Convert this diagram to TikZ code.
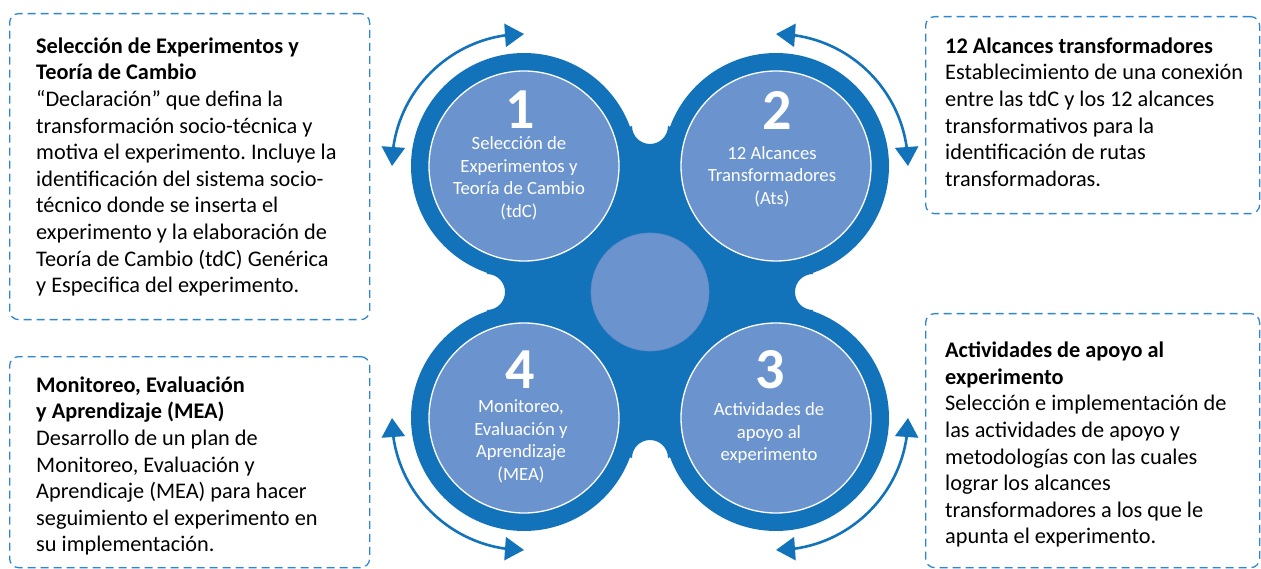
\documentclass[tikz,border=0pt]{standalone}
\usepackage{fontspec}
\setmainfont{Carlito}
\frenchspacing
\usetikzlibrary{arrows.meta,bending}
\definecolor{blobblue}{RGB}{18,115,187}
\definecolor{innerblue}{RGB}{107,147,205}
\definecolor{centerline}{RGB}{96,136,196}
\definecolor{dashblue}{RGB}{46,134,210}
\tikzset{
  outerring/.style={circle, fill=blobblue, minimum size=226pt, inner sep=0pt},
  innerdisc/.style={circle, fill=innerblue, draw=white, line width=1.3pt, minimum size=190pt, inner sep=0pt},
  centerdisc/.style={circle, fill=innerblue, draw=centerline, line width=0.6pt, minimum size=118pt, inner sep=0pt},
  bignum/.style={anchor=base, text=white, inner sep=0pt, font=\fontsize{58}{58}\selectfont\bfseries},
  circtext/.style={anchor=base, text=white, inner sep=0pt},
  infobox/.style={draw=dashblue, line width=1.3pt, dash pattern=on 8pt off 5pt, rounded corners=9pt, anchor=north west, inner sep=0pt},
  infotext/.style={anchor=base west, inner sep=0pt, text=black},
  cyclearrow/.style={draw=blobblue, line width=2.6pt, arrows={Triangle[length=19pt,width=23pt,flex]-Triangle[length=19pt,width=23pt,flex]}}
}
\newcommand{\circlines}[1]{\begin{minipage}[t]{190pt}\centering\fontsize{18.7}{22.5}\selectfont #1\end{minipage}}
\newcommand{\boxlines}[1]{\begin{minipage}[t]{330pt}\raggedright\fontsize{22.3}{26.6}\selectfont #1\end{minipage}}
\begin{document}
\begin{tikzpicture}[x=1pt,y=-1pt]
\useasboundingbox (0,0) rectangle (1261,569);
% outer dark circles
\node[outerring] (o1) at (524,166) {};
\node[outerring] (o2) at (776,166) {};
\node[outerring] (o3) at (776,418) {};
\node[outerring] (o4) at (524,418) {};
% connecting blob with four notches
\fill[blobblue] (632,126) arc[start angle=180,end angle=0,radius=18] -- (o2.center)
  -- (813,274) arc[start angle=-90,end angle=-270,radius=18] -- (o3.center)
  -- (668,458) arc[start angle=0,end angle=-180,radius=18] -- (o4.center)
  -- (487,310) arc[start angle=90,end angle=-90,radius=18] -- (o1.center) -- cycle;
% inner discs
\node[innerdisc] (n1) at (524,166) {};
\node[innerdisc] (n2) at (776,166) {};
\node[innerdisc] (n3) at (776,418) {};
\node[innerdisc] (n4) at (524,418) {};
\node[centerdisc] (nc) at (650,292) {};
% numbers
\node[bignum] (d1) at (520,128.3) {1};
\node[bignum] (d2) at (777,129.5) {2};
\node[bignum] (d3) at (770,388.3) {3};
\node[bignum] (d4) at (520,388.3) {4};
% circle texts
\node[circtext] (c1) at (519,149.8) {\circlines{Selección de\\Experimentos y\\Teoría de Cambio\\(tdC)}};
\node[circtext] (c2) at (772,159.3) {\circlines{12 Alcances\\Transformadores\\(Ats)}};
\node[circtext] (c3) at (769,415.7) {\circlines{Actividades de\\apoyo al\\experimento}};
\node[circtext] (c4) at (521,412.7) {\circlines{Monitoreo,\\Evaluación y\\Aprendizaje\\(MEA)}};
% cycle arrows
\coordinate (a1s) at (524,34);
\coordinate (a2s) at (776,34);
\coordinate (a3s) at (908,418);
\coordinate (a4s) at (392,418);
\draw[cyclearrow] (a1s) arc[start angle=-90,end angle=-180,radius=132];
\draw[cyclearrow] (a2s) arc[start angle=-90,end angle=0,radius=132];
\draw[cyclearrow] (a3s) arc[start angle=0,end angle=90,radius=132];
\draw[cyclearrow] (a4s) arc[start angle=180,end angle=90,radius=132];
% dashed boxes
\node[infobox, minimum width=360pt, minimum height=306pt] (b1) at (9,13) {};
\node[infobox, minimum width=334pt, minimum height=197pt] (b2) at (925,16) {};
\node[infobox, minimum width=360pt, minimum height=211pt] (b3) at (9,356) {};
\node[infobox, minimum width=334pt, minimum height=254pt] (b4) at (925,313) {};
% box texts
\node[infotext] (t1) at (36,53.3) {\boxlines{\textbf{Selección de Experimentos y}\\\textbf{Teoría de Cambio}\\“Declaración” que defina la\\transformación socio-técnica y\\motiva el experimento. Incluye la\\identificación del sistema socio-\\técnico donde se inserta el\\experimento y la elaboración de\\Teoría de Cambio (tdC) Genérica\\y Especifica del experimento.}};
\node[infotext] (t2) at (945,53.3) {\boxlines{\textbf{12 Alcances transformadores}\\Establecimiento de una conexión\\entre las tdC y los 12 alcances\\transformativos para la\\identificación de rutas\\transformadoras.}};
\node[infotext] (t3) at (36,392.3) {\boxlines{\textbf{Monitoreo, Evaluación}\\\textbf{y Aprendizaje (MEA)}\\Desarrollo de un plan de\\Monitoreo, Evaluación y\\Aprendicaje (MEA) para hacer\\seguimiento el experimento en\\su implementación.}};
\node[infotext] (t4) at (945,357.7) {\boxlines{\textbf{Actividades de apoyo al}\\\textbf{experimento}\\Selección e implementación de\\las actividades de apoyo y\\metodologías con las cuales\\lograr los alcances\\transformadores a los que le\\apunta el experimento.}};
\end{tikzpicture}
\end{document}
